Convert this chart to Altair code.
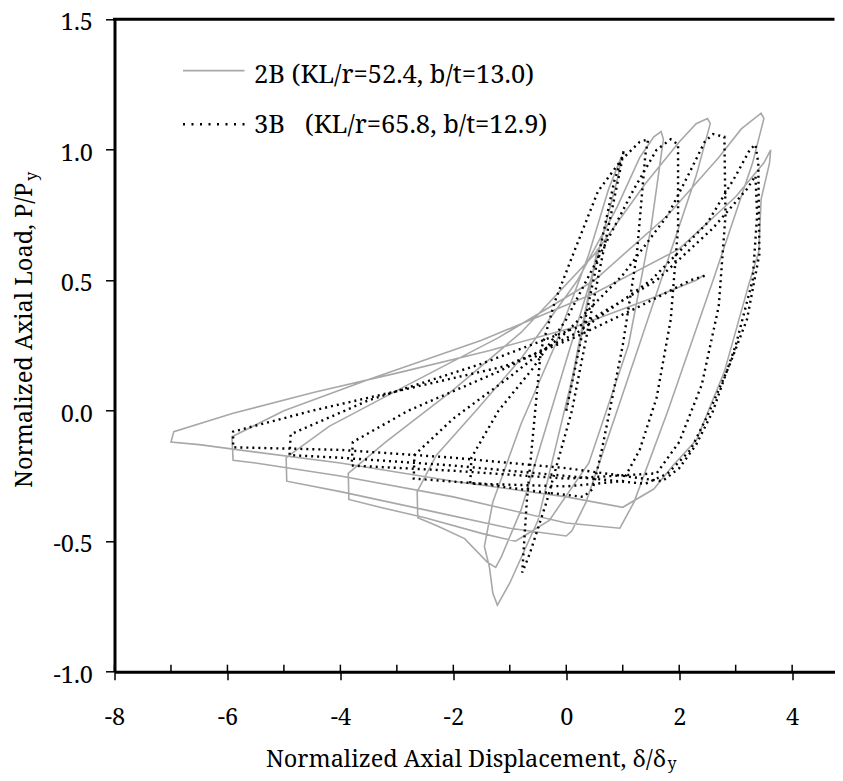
import altair as alt
import pandas as pd

# ---------------- data ----------------
# 2B specimen (grey solid)
gray_x = [0.0, 0.3, 0.55, 0.1, -0.5, -1.0, -1.22, -1.3, -1.36, -1.45,
          -1.3, -0.8, -0.2, 0.4, 0.75, 0.97, 0.92, 0.5, -0.2, -0.8, -1.15, -1.25,
          -1.4, -1.8, -2.3, -2.63, -2.64, -2.3, -1.6, -0.8, 0.2, 0.9, 1.3, 1.55, 1.68, 1.72,
          1.5, 1.1, 0.4, -0.3, -0.75, -0.9, -1.5, -2.5, -3.3, -3.85,
          -3.86, -3.2, -2.0, -0.8, 0.5, 1.4, 2.0, 2.3, 2.5, 2.55,
          2.3, 1.6, 0.9, 0.35, 0.1, 0.0, -1.0, -2.5, -4.0, -4.95,
          -4.96, -4.2, -2.8, -1.2, 0.5, 1.8, 2.7, 3.1, 3.45, 3.5,
          3.3, 2.6, 1.8, 1.2, 0.95, 0.0, -2.0, -4.0, -5.5, -5.9,
          -5.92, -5.0, -3.5, -1.5, 0.5, 2.0, 3.0, 3.5, 3.62, 3.6,
          3.45, 3.41, 3.24, 2.8, 2.31, 1.89, 1.55, 1.0, 0.0, -2.0, -4.0, -5.8, -6.5, -7.0,
          -6.95, -5.9, -4.48, -2.89, -1.37, 0.14, 1.5, 2.3, 2.44]
gray_y = [0.0, 0.32, 0.62, 0.12, -0.42, -0.66, -0.745, -0.70, -0.60, -0.52,
          -0.35, -0.05, 0.25, 0.6, 0.85, 0.97, 0.9, 0.55, 0.05, -0.38, -0.56, -0.6,
          -0.58, -0.49, -0.44, -0.41, -0.31, -0.17, 0.0, 0.2, 0.5, 0.78, 0.97, 1.05, 1.07, 1.04,
          0.7, 0.25, -0.2, -0.42, -0.48, -0.5, -0.47, -0.41, -0.37, -0.34,
          -0.24, -0.12, 0.08, 0.3, 0.6, 0.87, 1.03, 1.1, 1.12, 1.1,
          0.9, 0.45, 0.0, -0.35, -0.46, -0.48, -0.45, -0.38, -0.31, -0.27,
          -0.18, -0.06, 0.1, 0.28, 0.5, 0.75, 0.97, 1.08, 1.14, 1.12,
          0.95, 0.5, 0.0, -0.35, -0.45, -0.43, -0.33, -0.25, -0.2, -0.19,
          -0.1, 0.0, 0.12, 0.27, 0.45, 0.62, 0.82, 0.95, 1.0, 0.95,
          0.81, 0.61, 0.49, 0.15, -0.11, -0.21, -0.3, -0.37, -0.33, -0.27, -0.2, -0.15, -0.13, -0.12,
          -0.08, -0.01, 0.07, 0.15, 0.23, 0.32, 0.43, 0.5, 0.52]

# 3B specimen (black dotted)
black_x = [0.0, 0.5, 0.85, 1.0, 1.02, 0.98, 0.6, 0.1, -0.35, -0.65, -0.78,
           -0.7, -0.55, -0.45, -0.2, 0.14, 0.56, 0.97, 1.3, 1.45,
           1.4, 1.25, 1.0, 0.63, 0.47, 0.3, -0.5, -1.5, -1.7,
           -1.68, -1.2, -0.6, 0.0, 0.6, 1.2, 1.6, 1.85,
           1.98, 1.98, 1.85, 1.6, 1.3, 1.0, 0.0, -1.5, -2.7,
           -2.69, -2.0, -1.0, 0.0, 1.0, 1.8, 2.2, 2.45, 2.6,
           2.8, 2.82, 2.7, 2.4, 2.0, 1.6, 0.0, -2.0, -3.8,
           -3.78, -2.8, -1.2, 0.2, 1.5, 2.5, 3.0, 3.25, 3.35,
           3.4, 3.42, 3.2, 2.9, 2.5, 2.2, 1.8, 1.4, 0.0, -2.0, -4.0, -4.9,
           -4.88, -3.5, -1.5, 0.2, 1.6, 2.6, 3.2, 3.35,
           3.38, 3.3, 3.0, 2.6, 2.3, 2.0, 1.7, 0.0, -2.0, -4.0, -5.9,
           -5.9, -4.5, -2.5, -1.1, 0.14, 1.3, 2.2, 2.5]
black_y = [0.0, 0.52, 0.88, 0.98, 1.0, 0.95, 0.55, 0.0, -0.35, -0.55, -0.62,
           -0.35, 0.0, 0.23, 0.42, 0.61, 0.84, 0.96, 1.03, 1.04,
           0.98, 0.6, 0.25, -0.15, -0.3, -0.33, -0.31, -0.28, -0.28,
           -0.18, 0.0, 0.16, 0.35, 0.6, 0.85, 1.0, 1.04,
           1.02, 0.7, 0.35, 0.05, -0.15, -0.27, -0.29, -0.28, -0.26,
           -0.17, -0.03, 0.13, 0.3, 0.52, 0.75, 0.92, 1.03, 1.06,
           1.05, 0.75, 0.4, 0.1, -0.12, -0.24, -0.26, -0.23, -0.21,
           -0.12, 0.0, 0.15, 0.3, 0.5, 0.72, 0.9, 1.0, 1.02,
           0.95, 0.6, 0.35, 0.18, -0.02, -0.15, -0.24, -0.28, -0.25, -0.21, -0.18, -0.17,
           -0.09, 0.04, 0.18, 0.32, 0.5, 0.7, 0.85, 0.9,
           0.75, 0.5, 0.25, 0.0, -0.13, -0.22, -0.27, -0.22, -0.18, -0.15, -0.14,
           -0.08, 0.0, 0.1, 0.17, 0.28, 0.4, 0.5, 0.52]

legend_labels = ["2B (KL/r=52.4, b/t=13.0)", "3B\u00a0\u00a0 (KL/r=65.8, b/t=12.9)"]
x_title = "Normalized Axial Displacement, \u03b4/\u03b4"
y_title = "Normalized Axial Load, P/P"
subscript = "y"
x_ticks = [-8, -6, -4, -2, 0, 2, 4]
x_minor = [-7, -5, -3, -1, 1, 3]
y_ticks = [-1.0, -0.5, 0.0, 0.5, 1.0, 1.5]

# ---------------- chart ----------------
W, H = 720, 652.4
FONT = "Noto Serif"

df_g = pd.DataFrame({"x": gray_x, "y": gray_y, "i": range(len(gray_x))})
df_b = pd.DataFrame({"x": black_x, "y": black_y, "i": range(len(black_x))})

xs = alt.Scale(domain=[-8, 4.75], nice=False, zero=False)
ys = alt.Scale(domain=[-1.0, 1.5], nice=False, zero=False)

xaxis = alt.Axis(values=x_ticks, title=None, grid=False, tickSize=8, tickWidth=1.5,
                 tickColor="black", domainColor="black", domainWidth=3,
                 labelFont=FONT, labelFontSize=23.5, labelColor="black",
                 labelBaseline="alphabetic", labelPadding=45,
                 labelFlush=False, labelOverlap=False,
                 labelExpr="datum.value < 0 ? '-' + format(-datum.value, 'd') : format(datum.value, 'd')")
yaxis = alt.Axis(values=y_ticks, title=None, grid=False, tickSize=9, tickWidth=1.5,
                 tickColor="black", domainColor="black", domainWidth=3,
                 labelFont=FONT, labelFontSize=23.5, labelColor="black",
                 labelPadding=13, labelFlush=False, labelOverlap=False,
                 labelBaseline="alphabetic", labelOffset=10.5,
                 labelExpr="datum.value < 0 ? '-' + format(-datum.value, '.1f') : format(datum.value, '.1f')")

gray = alt.Chart(df_g).mark_line(color="#a8a8a8", strokeWidth=1.6).encode(
    x=alt.X("x:Q", scale=xs, axis=xaxis),
    y=alt.Y("y:Q", scale=ys, axis=yaxis),
    order="i:Q")

black = alt.Chart(df_b).mark_line(color="black", strokeWidth=2.4, strokeDash=[2, 4]).encode(
    x=alt.X("x:Q", scale=xs, axis=xaxis),
    y=alt.Y("y:Q", scale=ys, axis=yaxis),
    order="i:Q")

ticks_df = pd.DataFrame({"v": x_ticks + x_minor})
inner_ticks = alt.Chart(ticks_df).mark_rule(color="black", strokeWidth=1.5).encode(
    x=alt.X("v:Q", scale=xs, axis=xaxis),
    y=alt.value(H - 7), y2=alt.value(H))

one = pd.DataFrame({"k": [0]})
top_line = alt.Chart(one).mark_rule(color="black", strokeWidth=3).encode(
    x=alt.value(-1.5), x2=alt.value(W), y=alt.value(0))


def txt(s, x, y, size=23.5, angle=0, align="left"):
    props = dict(align=align, baseline="alphabetic", font=FONT, fontSize=size, color="black")
    if angle:
        props["angle"] = angle
    return alt.Chart(pd.DataFrame({"t": [s]})).mark_text(**props).encode(
        text="t:N", x=alt.value(x), y=alt.value(y))


leg_gray = alt.Chart(one).mark_rule(color="#a8a8a8", strokeWidth=1.8).encode(
    x=alt.value(68.5), x2=alt.value(130), y=alt.value(51.4))
leg_black = alt.Chart(one).mark_rule(color="black", strokeWidth=2.4, strokeDash=[2, 6.5]).encode(
    x=alt.value(68.5), x2=alt.value(130), y=alt.value(105))

layers = [
    gray, black, inner_ticks, top_line, leg_gray, leg_black,
    txt(legend_labels[0], 139.5, 63.3, size=25.5),
    txt(legend_labels[1], 139.5, 113.2, size=25.5),
    txt(x_title, 551.5, 747.2, align="right"),
    txt(subscript, 553, 749.5, size=16),
    txt(y_title, -82.5, 163.5, angle=270, align="right"),
    txt(subscript, -77.5, 161.5, size=16, angle=270),
]

chart = alt.layer(*layers).properties(
    width=W, height=H,
    autosize=alt.AutoSizeParams(type="none"),
    padding={"left": 106.5, "top": 11.3, "right": 0.5, "bottom": 101.3},
    background="white",
).configure_view(stroke=None)

chart.save("out.html", embed_options={"renderer": "svg", "actions": False})
